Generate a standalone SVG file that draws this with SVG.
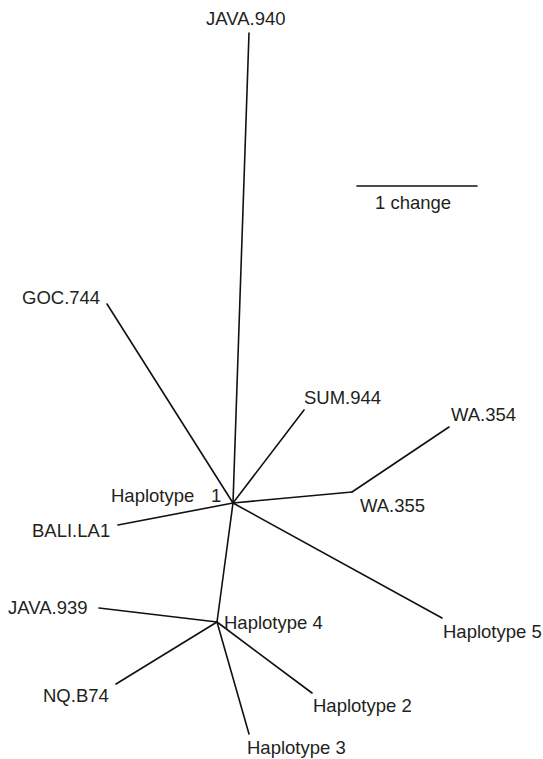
<svg xmlns="http://www.w3.org/2000/svg" width="543" height="759" viewBox="0 0 543 759">
<style>
.e{stroke:#111;stroke-width:1.6;fill:none;stroke-linecap:round}
text{font-family:"Liberation Sans",Arial,sans-serif;font-size:18.5px;fill:#231f20}
</style>
<rect width="543" height="759" fill="#fff"/>
<g id="connectors">
<line class="e" x1="233" y1="503" x2="249" y2="33"/>
<line class="e" x1="233" y1="503" x2="107" y2="304"/>
<line class="e" x1="233" y1="503" x2="304" y2="410"/>
<line class="e" x1="233" y1="503" x2="352" y2="492"/>
<line class="e" x1="352" y1="492" x2="449" y2="427"/>
<line class="e" x1="233" y1="503" x2="118" y2="525"/>
<line class="e" x1="233" y1="503" x2="442" y2="618"/>
<line class="e" x1="233" y1="503" x2="217" y2="622"/>
<line class="e" x1="217" y1="622" x2="99" y2="608"/>
<line class="e" x1="217" y1="622" x2="116" y2="684"/>
<line class="e" x1="217" y1="622" x2="249" y2="734"/>
<line class="e" x1="217" y1="622" x2="312" y2="693"/>
</g>
<g id="scale">
<line class="e" x1="357" y1="186" x2="477" y2="186"/>
<text x="375" y="209">1 change</text>
</g>
<g id="java940"><text x="206" y="25">JAVA.940</text></g>
<g id="goc744"><text x="22" y="304">GOC.744</text></g>
<g id="sum944"><text x="304" y="404">SUM.944</text></g>
<g id="wa354"><text x="451" y="421">WA.354</text></g>
<g id="wa355"><text x="360" y="512">WA.355</text></g>
<g id="hap1"><text x="111" y="502">Haplotype <tspan x="211">1</tspan></text></g>
<g id="bali"><text x="32" y="537">BALI.LA1</text></g>
<g id="java939"><text x="8" y="614">JAVA.939</text></g>
<g id="hap4"><text x="224" y="629">Haplotype 4</text></g>
<g id="nqb74"><text x="43" y="702">NQ.B74</text></g>
<g id="hap5"><text x="443" y="638">Haplotype 5</text></g>
<g id="hap2"><text x="313" y="712">Haplotype 2</text></g>
<g id="hap3"><text x="247" y="754">Haplotype 3</text></g>
</svg>
